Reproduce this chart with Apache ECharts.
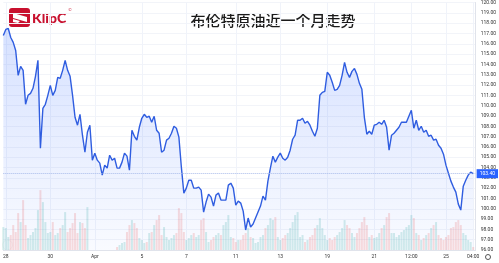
<!DOCTYPE html>
<html>
<head>
<meta charset="utf-8">
<script src="https://cdn.jsdelivr.net/npm/echarts@6/dist/echarts.min.js"></script>
<style>
html,body{margin:0;padding:0;background:#fff;}
#c{width:499px;height:263px;}
</style>
</head>
<body>
<div id="c"></div>
<script>
// Brent price (close), evenly spaced samples
const prices = [
116.81,117.39,117.48,116.61,116.13,115.35,112.94,113.81,113.42,110.13,
111.00,111.19,111.68,112.84,114.39,105.87,109.74,110.13,111.00,111.97,
111.00,111.48,112.74,112.65,113.42,114.39,113.42,112.84,111.00,108.87,
108.10,109.16,107.13,105.48,107.42,108.10,104.71,105.39,104.71,104.42,
103.26,104.23,103.94,105.19,104.71,104.90,103.94,103.94,104.52,105.39,
105.10,103.74,107.61,107.03,106.65,107.90,108.77,109.16,108.87,108.97,
108.39,108.97,107.61,107.32,105.48,105.68,106.65,106.84,107.32,108.00,
107.81,106.94,104.03,101.52,102.00,102.77,102.77,102.00,102.00,102.10,
101.81,99.68,100.65,101.42,101.13,100.26,101.32,101.52,100.84,100.84,
100.84,102.29,102.48,102.00,100.35,100.74,100.55,99.77,97.94,99.10,
98.23,98.52,99.10,99.68,100.26,101.23,100.84,102.68,103.94,105.10,
104.52,105.00,105.39,104.90,104.71,105.00,105.68,106.74,107.13,108.58,
108.58,108.77,108.29,108.48,108.10,107.52,107.03,107.81,111.00,111.29,
111.39,113.23,112.94,112.26,111.48,111.58,111.97,112.94,114.19,113.23,
112.74,113.32,113.61,113.03,112.16,111.58,108.87,107.23,107.52,107.23,
108.10,108.19,108.39,108.19,108.58,107.90,105.68,107.13,107.32,107.61,
107.90,108.39,108.39,108.39,108.97,109.55,107.81,108.58,107.61,108.00,
107.42,107.61,107.03,107.13,106.65,106.74,106.16,105.87,105.29,104.23,
103.45,102.68,102.10,101.61,100.45,99.87,102.19,102.77,103.26,103.55,
103.40
];
// Volume (relative units)
const volumes = [
23,22,13,15,25,18,37,28,50,25,
12,15,18,22,40,60,48,28,17,18,
28,15,17,22,25,38,18,22,27,37,
17,28,27,22,43,0,0,0,0,0,
0,0,0,0,0,0,3,5,7,8,
18,25,30,27,22,12,10,7,8,17,
18,25,30,35,15,23,13,10,12,15,
17,42,37,18,10,12,15,17,13,15,
30,32,18,8,10,13,15,17,15,25,
28,35,13,12,8,10,10,15,17,22,
13,12,7,8,13,15,22,25,32,30,
33,13,10,12,15,17,22,28,35,38,
13,15,8,10,13,15,22,25,32,22,
15,10,12,10,13,15,18,22,30,25,
22,17,13,17,22,28,33,25,13,15,
12,13,17,22,25,33,37,17,17,13,
15,18,20,23,25,35,32,17,15,10,
12,15,17,22,25,28,15,12,10,13,
15,22,23,28,30,25,17,15,10,8,
3
];
const tickIndex = [1,19,37,56,74,94,112,131,150,165,179,190];
const tickLabels = ['28','30','Apr','5','7','11','13','19','21','12:00','25','04:00'];
const lastPrice = 103.40;
const titleText = '布伦特原油近一个月走势';

const categories = [];
for (let i = 0; i <= prices.length; i++) categories.push(String(i));

const chart = echarts.init(document.getElementById('c'), null, {renderer: 'canvas'});
const isTick = (i) => tickIndex.indexOf(i) >= 0;

chart.setOption({
  backgroundColor: '#ffffff',
  animation: false,
  grid: {left: 0, right: 21, top: 2, bottom: 13, containLabel: false},
  xAxis: {
    type: 'category',
    data: categories,
    boundaryGap: false,
    axisLine: {show: true, lineStyle: {color: '#e0e3eb', width: 1}},
    axisTick: {show: false},
    axisLabel: {
      interval: (i) => isTick(i),
      formatter: (v, i) => { const k = tickIndex.indexOf(i); return k >= 0 ? tickLabels[k] : ''; },
      fontSize: 5, color: '#333', margin: 4, fontFamily: 'Roboto'
    },
    splitLine: {show: true, interval: (i) => isTick(i), lineStyle: {color: '#f0f3fa', width: 1}}
  },
  yAxis: [{
    type: 'value', position: 'right', min: 96, max: 120, interval: 1,
    axisLine: {show: true, lineStyle: {color: '#e0e3eb'}},
    axisTick: {show: false},
    axisLabel: {formatter: (v) => v.toFixed(2), fontSize: 5, color: '#333', margin: 5, fontFamily: 'Roboto', showMinLabel: true, showMaxLabel: true},
    splitLine: {show: true, lineStyle: {color: '#f2f4f9', width: 1}}
  }, {
    type: 'value', min: 0, max: 248, show: false, splitLine: {show: false}
  }],
  series: [{
    type: 'bar',
    yAxisIndex: 1,
    data: volumes,
    barWidth: 2,
    itemStyle: {
      color: (p) => {
        const i = p.dataIndex;
        const up = i === 0 ? true : prices[i] >= prices[i - 1];
        return up ? 'rgba(38,166,154,0.2)' : 'rgba(239,83,80,0.2)';
      }
    },
    silent: true
  }, {
    type: 'line',
    data: prices,
    symbol: 'none',
    smooth: false,
    lineStyle: {color: '#2f5de0', width: 1.4},
    areaStyle: {
      origin: 'start',
      color: new echarts.graphic.LinearGradient(0, 0, 0, 250, [
        {offset: 0, color: 'rgba(41,98,255,0.30)'},
        {offset: 1, color: 'rgba(41,98,255,0.04)'}
      ], true)
    },
    markLine: {
      silent: true,
      symbol: 'none',
      lineStyle: {color: '#a9bbea', width: 1, type: 'dotted'},
      data: [{yAxis: lastPrice}],
      label: {
        show: true, position: 'end', distance: 1,
        formatter: lastPrice.toFixed(2),
        backgroundColor: '#2962ff', color: '#fff',
        fontSize: 5, padding: [2, 3, 2, 3], fontFamily: 'Roboto'
      }
    }
  }],
  graphic: [
    {type: 'rect', shape: {x: 9, y: 8, width: 21, height: 19, r: 3}, style: {fill: '#c8102e'}},
    {type: 'polygon', shape: {points: [[13,13],[27,17],[27,22],[13,18]]}, style: {fill: '#ffffff'}},
    {type: 'polygon', shape: {points: [[13,19],[20,21],[18,23],[13,22]]}, style: {fill: '#ffffff'}},
    {type: 'text', style: {x: 32, y: 18, text: 'KlipC', fill: '#c8102e', fontSize: 14, fontWeight: 900, fontFamily: 'Lato', textVerticalAlign: 'middle'}},
    {type: 'text', style: {x: 68, y: 10, text: '©', fill: '#c8102e', fontSize: 4, fontFamily: 'DejaVu Sans', textVerticalAlign: 'middle'}},
    {type: 'text', style: {x: 273, y: 20, text: titleText, fill: '#1a1a1a', fontSize: 15, fontWeight: 500, fontFamily: 'Noto Sans CJK SC', textAlign: 'center', textVerticalAlign: 'middle'}},
    {type: 'circle', shape: {cx: 7.5, cy: 245, r: 5}, style: {fill: '#ffffff', stroke: '#eeeeee', lineWidth: 0.5}},
    {type: 'circle', shape: {cx: 488, cy: 257, r: 2.5}, style: {fill: 'none', stroke: '#555', lineWidth: 1}}
  ]
});
</script>
</body>
</html>
